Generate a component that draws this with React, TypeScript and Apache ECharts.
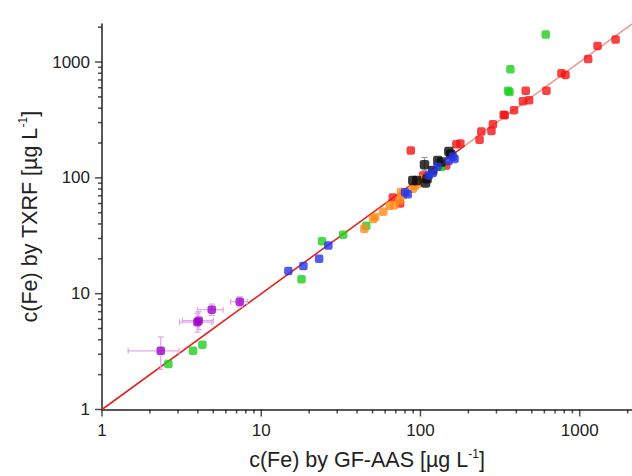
import React, { useEffect, useRef } from "react";
import * as echarts from "echarts";

const axisMin = 1;
const axisMax = 2130;
const majorTicks = [1, 10, 100, 1000];
const minorTicks = [2, 3, 4, 5, 6, 7, 8, 9, 20, 30, 40, 50, 60, 70, 80, 90, 200, 300, 400, 500, 600, 700, 800, 900, 2000];

const redPoints = [
  [86.9, 172], [67, 67.6], [74.5, 60.1], [104, 105], [145, 128], [168, 195], [178, 198],
  [235, 213], [241, 251], [279, 254], [285, 290], [333, 350], [338, 348], [387, 384],
  [440, 458], [481, 467], [458, 565], [618, 565], [768, 800], [814, 774],
  [1130, 1061], [1294, 1378], [1680, 1563],
];
const greenPoints = [
  [2.61, 2.47], [3.73, 3.21], [4.27, 3.63], [17.9, 13.3], [24.1, 28.3], [32.7, 32.3],
  [45.7, 38.5], [135, 124], [355, 565], [362, 550], [367, 866], [612, 1725],
];
const orangePoints = [
  [44.4, 36.3], [50.5, 44.2], [52, 46], [58.4, 51.1], [64.1, 57.4], [68.6, 58.1],
  [73.8, 64.1], [77.4, 70.8], [75.5, 75.6], [89.5, 80.7], [92, 85], [96.2, 89.1], [103.5, 98.3],
];
const blackPoints = [
  [89.5, 95], [94.8, 95], [107.5, 90.3], [106, 130], [110, 98], [119.5, 115.6],
  [128.5, 140.9], [135, 137], [150.7, 169], [155, 160],
];
const bluePoints = [
  [14.8, 15.7], [18.4, 17.3], [23.1, 20], [26.4, 26], [83.2, 72.1], [80, 75],
  [112.8, 104.8], [119, 110], [128, 125], [150, 140], [163.7, 145.6], [160, 152],
];
// x, y, xLow, xHigh, yLow, yHigh
const purplePoints = [
  [2.34, 3.21, 1.46, 3.04, 2.22, 4.23],
  [3.97, 5.68, 3.07, 4.89, 4.66, 6.78],
  [4.05, 5.85, 3.2, 5.0, 4.9, 7.0],
  [4.89, 7.28, 3.97, 5.76, 6.47, 8.13],
  [7.33, 8.53, 6.43, 8.18, 7.7, 9.4],
];
const blackErrors = [[106, 130, 106, 106, 115, 150]];
const identityLow = [[1, 1], [190, 190]];
const identityHigh = [[190, 190], [axisMax, axisMax]];

const FONT = "'Liberation Sans', Arial, Helvetica, sans-serif";

function errorBarRenderer(color: string) {
  return (params: any, api: any) => {
    const x = api.value(0), y = api.value(1);
    const xl = api.value(2), xh = api.value(3), yl = api.value(4), yh = api.value(5);
    const pL = api.coord([xl, y]);
    const pR = api.coord([xh, y]);
    const pB = api.coord([x, yl]);
    const pT = api.coord([x, yh]);
    const c = 3;
    const style = { stroke: color, lineWidth: 1.3 };
    const children: any[] = [];
    if (Math.abs(pR[0] - pL[0]) > 1) {
      children.push({ type: "line", shape: { x1: pL[0], y1: pL[1], x2: pR[0], y2: pR[1] }, style });
      children.push({ type: "line", shape: { x1: pL[0], y1: pL[1] - c, x2: pL[0], y2: pL[1] + c }, style });
      children.push({ type: "line", shape: { x1: pR[0], y1: pR[1] - c, x2: pR[0], y2: pR[1] + c }, style });
    }
    children.push({ type: "line", shape: { x1: pB[0], y1: pB[1], x2: pT[0], y2: pT[1] }, style });
    children.push({ type: "line", shape: { x1: pB[0] - c, y1: pB[1], x2: pB[0] + c, y2: pB[1] }, style });
    children.push({ type: "line", shape: { x1: pT[0] - c, y1: pT[1], x2: pT[0] + c, y2: pT[1] }, style });
    return { type: "group", children };
  };
}

function pointSeries(name: string, data: number[][], color: string, size = 8.5) {
  return {
    name,
    type: "scatter",
    data,
    symbol: "roundRect",
    symbolSize: size,
    itemStyle: { color },
    z: 5,
  };
}

function tickSeries(data: number[][], size: number[], offset: number[]) {
  return {
    type: "scatter",
    data,
    symbol: "rect",
    symbolSize: size,
    symbolOffset: offset,
    itemStyle: { color: "#222" },
    clip: false,
    silent: true,
    z: 1,
  };
}

export default function App() {
  const ref = useRef<HTMLDivElement>(null);
  useEffect(() => {
    if (!ref.current) return;
    const chart = echarts.init(ref.current, null, { renderer: "svg" });
    const labelFmt = (v: number) => String(Math.round(v));
    const axisCommon = {
      type: "log",
      logBase: 10,
      min: axisMin,
      max: axisMax,
      splitLine: { show: false },
      axisTick: { show: false },
      axisLine: { show: true, lineStyle: { color: "#222", width: 1.5 } },
      nameLocation: "middle",
    };
    const rich = {
      t: { fontSize: 21.5, fontFamily: FONT, color: "#222", lineHeight: 25 },
      s: { fontSize: 12, fontFamily: FONT, color: "#222", verticalAlign: "top", lineHeight: 13 },
    };
    chart.setOption({
      animation: false,
      backgroundColor: "#ffffff",
      grid: { left: 102, right: 0, top: 24, bottom: 63, containLabel: false },
      xAxis: {
        ...axisCommon,
        axisLabel: { formatter: labelFmt, fontSize: 17, color: "#222", fontFamily: FONT, margin: 12, showMaxLabel: false },
        name: "{t|c(Fe) by GF-AAS [µg L}{s|-1}{t|]}",
        nameGap: 38,
        nameTextStyle: { rich },
      },
      yAxis: {
        ...axisCommon,
        axisLabel: { formatter: labelFmt, fontSize: 17, color: "#222", fontFamily: FONT, margin: 12, showMaxLabel: false },
        name: "{t|c(Fe) by TXRF [µg L}{s|-1}{t|]}",
        nameGap: 60,
        nameTextStyle: { rich },
      },
      series: [
        tickSeries(minorTicks.map((v) => [v, axisMin]), [1.5, 4], [0, 2]),
        tickSeries(majorTicks.map((v) => [v, axisMin]), [1.5, 7], [0, 3.5]),
        tickSeries(minorTicks.map((v) => [axisMin, v]), [4, 1.5], [-2, 0]),
        tickSeries(majorTicks.map((v) => [axisMin, v]), [7, 1.5], [-3.5, 0]),
        {
          type: "line",
          data: identityLow,
          symbol: "none",
          lineStyle: { color: "#e02626", width: 1.6 },
          z: 2,
          silent: true,
        },
        {
          type: "line",
          data: identityHigh,
          symbol: "none",
          lineStyle: { color: "#f19a9a", width: 1.6 },
          z: 2,
          silent: true,
        },
        {
          type: "custom",
          data: purplePoints,
          renderItem: errorBarRenderer("#e4a8ee"),
          z: 3,
          silent: true,
        },
        {
          type: "custom",
          data: blackErrors,
          renderItem: errorBarRenderer("#9a9aa8"),
          z: 3,
          silent: true,
        },
        pointSeries("red", redPoints, "#f41414"),
        pointSeries("green", greenPoints, "#1ecf1e"),
        pointSeries("orange", orangePoints, "#ff8c1a"),
        pointSeries("black", blackPoints, "#0a0a0a", 9.5),
        pointSeries("blue", bluePoints, "#2634e6"),
        pointSeries("purple", purplePoints.map((p) => [p[0], p[1]]), "#9b05c8"),
      ],
    });
    return () => chart.dispose();
  }, []);
  return <div ref={ref} style={{ position: "fixed", left: 0, top: 0, width: 632, height: 476, background: "#fff" }} />;
}
